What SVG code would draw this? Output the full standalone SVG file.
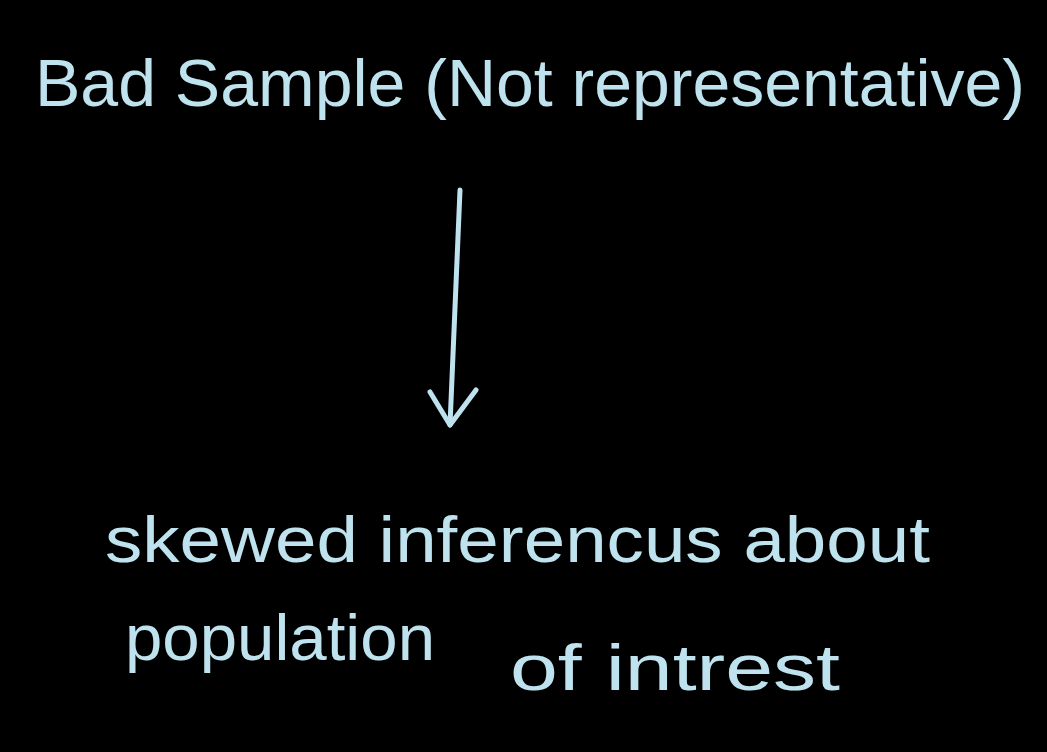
<svg xmlns="http://www.w3.org/2000/svg" width="1047" height="752" viewBox="0 0 1047 752">
<style>
.t{font-family:"Liberation Sans","DejaVu Sans",sans-serif;fill:#bfe3ee;}
.c{fill:none;stroke:#bfe3ee;stroke-width:5;stroke-linecap:round;stroke-linejoin:round;}
</style>
<rect width="1047" height="752" fill="#000"/>
<g id="node-bad-sample">
<text class="t" x="35" y="106" font-size="66" textLength="990" lengthAdjust="spacingAndGlyphs">Bad Sample (Not representative)</text>
</g>
<g id="connectors">
<path class="c" d="M460 190 L450 425"/>
<path class="c" d="M430 392 L450 425 L476 390"/>
</g>
<g id="node-skewed">
<text class="t" x="105" y="562" font-size="64" textLength="825" lengthAdjust="spacingAndGlyphs">skewed inferencus about</text>
<text class="t" x="125" y="660" font-size="64" textLength="310" lengthAdjust="spacingAndGlyphs">population</text>
<text class="t" x="510" y="690" font-size="64" textLength="330" lengthAdjust="spacingAndGlyphs">of intrest</text>
</g>
</svg>
